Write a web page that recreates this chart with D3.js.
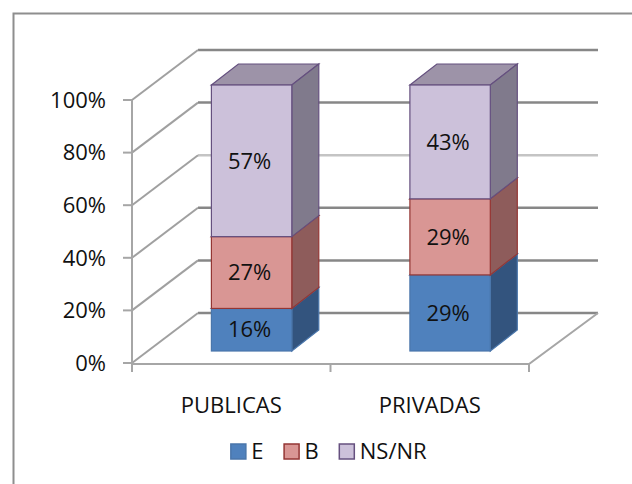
<!DOCTYPE html>
<html>
<head>
<meta charset="utf-8">
<script src="https://cdn.jsdelivr.net/npm/d3@7"></script>
<style>
  body { margin: 0; background: #fff; }
  text { font-family: 'Open Sans', sans-serif; fill: #111; }
</style>
</head>
<body>
<svg id="chart" width="632" height="484"></svg>
<script>
const categories = ['PUBLICAS', 'PRIVADAS'];
const seriesNames = ['E', 'B', 'NS/NR'];
const valuesE = [16, 28.6];
const valuesB = [27, 28.6];
const valuesNS = [57, 42.8];
const yTicks = [0, 0.2, 0.4, 0.6, 0.8, 1];

const colors = {
    'E':     {front: '#4f81bd', side: '#33547e', top: '#3f6797', line: '#4a76ab'},
    'B':     {front: '#d99694', side: '#8e5c5b', top: '#b07473', line: '#943634'},
    'NS/NR': {front: '#ccc1da', side: '#807a8c', top: '#9d93a8', line: '#65507f'}
};

const rows = categories.map((c, i) => ({cat: c, 'E': valuesE[i], 'B': valuesB[i], 'NS/NR': valuesNS[i]}));
const stacked = d3.stack().keys(seriesNames).offset(d3.stackOffsetExpand)(rows);

const svg = d3.select('#chart');
const fs = '22px';

// depth of the floor / walls and of the bars
const dx = 66, dy = -50;
const bdx = 27, bdy = -21;

const x = d3.scaleBand().domain(categories).range([132, 529]);
const yFront = d3.scaleLinear().domain([0, 1]).range([363, 100]);
const yBar = d3.scaleLinear().domain([0, 1]).range([351, 85]);

// outer border
svg.append('path')
    .attr('d', 'M13.5,484 L13.5,13.5 L632,13.5')
    .attr('fill', 'none')
    .attr('stroke', '#8e8e8e')
    .attr('stroke-width', 2);

// back wall gridlines
svg.selectAll('.grid')
    .data(yTicks)
    .join('line')
        .attr('x1', 132 + dx)
        .attr('x2', 598)
        .attr('y1', d => yFront(d) + dy)
        .attr('y2', d => yFront(d) + dy)
        .attr('stroke', d => d === 0.6 ? '#c4c4c4' : '#878787')
        .attr('stroke-width', 2.5);

// side wall lines
svg.selectAll('.wall')
    .data(yTicks)
    .join('line')
        .attr('x1', 132)
        .attr('y1', d => yFront(d))
        .attr('x2', 132 + dx)
        .attr('y2', d => yFront(d) + dy)
        .attr('stroke', '#a0a0a0')
        .attr('stroke-width', 2);

// floor front + right edge
svg.append('path')
    .attr('d', `M132,${yFront(0) + 1} L529,${yFront(0) + 1} L${529 + dx + 3},${yFront(0) + dy}`)
    .attr('fill', 'none')
    .attr('stroke', '#a6a6a6')
    .attr('stroke-width', 2);

// vertical axis + ticks
svg.append('line')
    .attr('x1', 132).attr('x2', 132)
    .attr('y1', yFront(1)).attr('y2', yFront(0) + 9)
    .attr('stroke', '#a6a6a6')
    .attr('stroke-width', 2);

svg.selectAll('.ytick')
    .data(yTicks)
    .join('line')
        .attr('x1', 123).attr('x2', 132)
        .attr('y1', d => yFront(d)).attr('y2', d => yFront(d))
        .attr('stroke', '#a6a6a6')
        .attr('stroke-width', 2);

svg.selectAll('.ylabel')
    .data(yTicks)
    .join('text')
        .attr('x', 106)
        .attr('y', d => yFront(d))
        .attr('dy', '0.35em')
        .attr('text-anchor', 'end')
        .style('font-size', fs)
        .text(d => d3.format('.0%')(d));

// category ticks
const catTicks = [132, ...categories.map(c => x(c) + x.bandwidth())];
svg.selectAll('.xtick')
    .data(catTicks)
    .join('line')
        .attr('x1', d => d).attr('x2', d => d)
        .attr('y1', yFront(0) + 1).attr('y2', yFront(0) + 9)
        .attr('stroke', '#a6a6a6')
        .attr('stroke-width', 2);

svg.selectAll('.xlabel')
    .data(categories)
    .join('text')
        .attr('x', d => x(d) + x.bandwidth() / 2)
        .attr('y', 405)
        .attr('dy', '0.35em')
        .attr('text-anchor', 'middle')
        .style('font-size', fs)
        .text(d => d);

// bars
const barLeft = c => x(c) + x.bandwidth() * 0.4;
const barW = x.bandwidth() * 0.405;

stacked.forEach(layer => {
    const col = colors[layer.key];
    const g = svg.append('g');
    layer.forEach(d => {
        const x0 = barLeft(d.data.cat), x1 = x0 + barW;
        const yT = yBar(d[1]), yB = yBar(d[0]);
        g.append('path')
            .attr('d', `M${x0},${yT} L${x0 + bdx},${yT + bdy} L${x1 + bdx},${yT + bdy} L${x1},${yT} Z`)
            .attr('fill', col.top).attr('stroke', col.line).attr('stroke-width', 1.2);
        g.append('path')
            .attr('d', `M${x1},${yT} L${x1 + bdx},${yT + bdy} L${x1 + bdx},${yB + bdy} L${x1},${yB} Z`)
            .attr('fill', col.side).attr('stroke', col.line).attr('stroke-width', 1.2);
        g.append('rect')
            .attr('x', x0).attr('y', yT)
            .attr('width', barW).attr('height', yB - yT)
            .attr('fill', col.front).attr('stroke', col.line).attr('stroke-width', 1.2);
        g.append('text')
            .attr('x', x0 + barW / 2 - 2)
            .attr('y', (yT + yB) / 2)
            .attr('dy', '0.35em')
            .attr('text-anchor', 'middle')
            .style('font-size', fs)
            .text(Math.round((d[1] - d[0]) * 100) + '%');
    });
});

// legend
const legend = svg.append('g');
let lx = 0;
seriesNames.forEach(name => {
    const item = legend.append('g').attr('transform', `translate(${lx},0)`);
    item.append('rect')
        .attr('x', 0.5).attr('y', -7)
        .attr('width', 15).attr('height', 15)
        .attr('fill', colors[name].front)
        .attr('stroke', colors[name].line)
        .attr('stroke-width', 1.5);
    const t = item.append('text')
        .attr('x', 21).attr('y', 0)
        .attr('dy', '0.35em')
        .style('font-size', fs)
        .text(name);
    lx += 21 + t.node().getComputedTextLength() + 20;
});
const legW = lx - 20;
legend.attr('transform', `translate(${328.5 - legW / 2},451)`);
</script>
</body>
</html>
